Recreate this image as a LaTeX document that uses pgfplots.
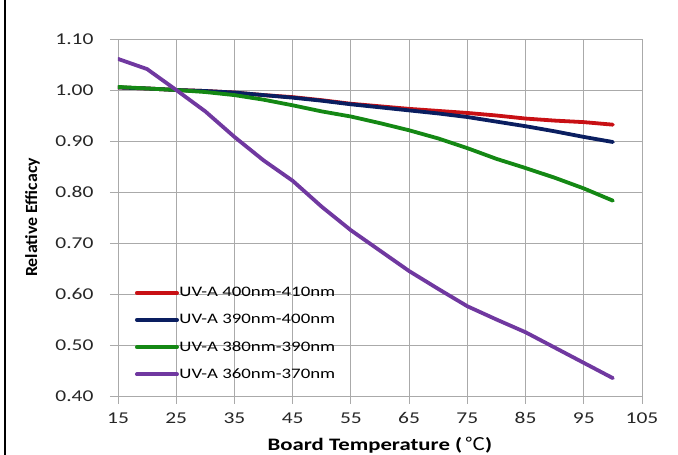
\documentclass[border=0pt]{standalone}
\usepackage{fontspec}
\setmainfont[FakeStretch=1.3]{Carlito}
\newfontfamily\ylabfont[FakeStretch=1.05]{Carlito}
\newfontfamily\cjk[FakeStretch=1.15]{Noto Sans CJK SC}
\usepackage{pgfplots}
\pgfplotsset{compat=1.18}
\definecolor{cred}{RGB}{200,16,20}
\definecolor{cblue}{RGB}{10,30,96}
\definecolor{cgreen}{RGB}{20,136,20}
\definecolor{cpurple}{RGB}{112,56,160}
\definecolor{cgrid}{RGB}{170,170,170}
\begin{document}
\begin{tikzpicture}[x=1pt,y=1pt]
\path[use as bounding box] (0,0) rectangle (678,455);
\draw[line width=2pt,black] (5,0) -- (5,455);
\begin{axis}[
  at={(118pt,59pt)}, anchor=south west,
  scale only axis, width=524pt, height=357pt,
  xmin=15, xmax=105, ymin=0.40, ymax=1.10,
  xtick={15,25,...,105},
  ytick={0.4,0.5,...,1.1},
  /pgf/number format/assume math mode=true,
  tick label style={font=\fontsize{16.5}{19}\selectfont, color=black!85},
  yticklabel style={xshift=-13pt, /pgf/number format/.cd,fixed,fixed zerofill,precision=2},
  xticklabel style={yshift=-5pt},
  grid=major,
  grid style={cgrid, line width=0.9pt},
  axis line style={cgrid, line width=0.9pt},
  axis x line*=bottom, axis y line*=left,
  tick style={cgrid, line width=0.9pt},
  tick align=outside,
  major tick length=8pt,
  ylabel={\ylabfont\bfseries Relative Efficacy},
  xlabel={\textbf{Board Temperature (}\,{\cjk ℃}\textbf{)}},
  xlabel style={font=\fontsize{17.5}{21}\selectfont, at={(axis description cs:0.5,-0.137)}, anchor=center},
  ylabel style={font=\fontsize{17}{20}\selectfont, at={(axis description cs:-0.163,0.5)}, anchor=center},
  legend style={at={(axis description cs:0.032,0.31)}, anchor=north west, draw=none, fill=none,
    font=\fontsize{14.5}{17}\selectfont, row sep=12pt, inner sep=0pt, nodes={inner xsep=0.5pt}},
  legend cell align=left,
  legend image code/.code={\draw[#1, line width=4pt, line cap=round] (0pt,0pt) -- (40pt,0pt);},
  every axis plot/.append style={line width=3.8pt, line join=round, line cap=round},
]
\addplot[cred] coordinates {(15,1.005)(20,1.003)(25,1.0)(30,0.998)(35,0.995)(40,0.99)(45,0.986)(50,0.98)(55,0.973)(60,0.968)(65,0.963)(70,0.959)(75,0.955)(80,0.95)(85,0.944)(90,0.94)(95,0.937)(100,0.932)};
\addlegendentry{UV-A 400nm-410nm}
\addplot[cblue] coordinates {(15,1.005)(20,1.003)(25,1.0)(30,0.998)(35,0.995)(40,0.99)(45,0.985)(50,0.979)(55,0.972)(60,0.966)(65,0.96)(70,0.954)(75,0.947)(80,0.938)(85,0.929)(90,0.919)(95,0.908)(100,0.898)};
\addlegendentry{UV-A 390nm-400nm}
\addplot[cgreen] coordinates {(15,1.006)(20,1.003)(25,1.0)(30,0.996)(35,0.99)(40,0.981)(45,0.97)(50,0.958)(55,0.948)(60,0.935)(65,0.921)(70,0.905)(75,0.886)(80,0.865)(85,0.847)(90,0.828)(95,0.807)(100,0.783)};
\addlegendentry{UV-A 380nm-390nm}
\addplot[cpurple] coordinates {(15,1.061)(20,1.041)(25,1.0)(30,0.958)(35,0.908)(40,0.862)(45,0.822)(50,0.771)(55,0.725)(60,0.685)(65,0.645)(70,0.61)(75,0.576)(80,0.55)(85,0.525)(90,0.495)(95,0.465)(100,0.435)};
\addlegendentry{UV-A 360nm-370nm}
\end{axis}
\end{tikzpicture}
\end{document}
